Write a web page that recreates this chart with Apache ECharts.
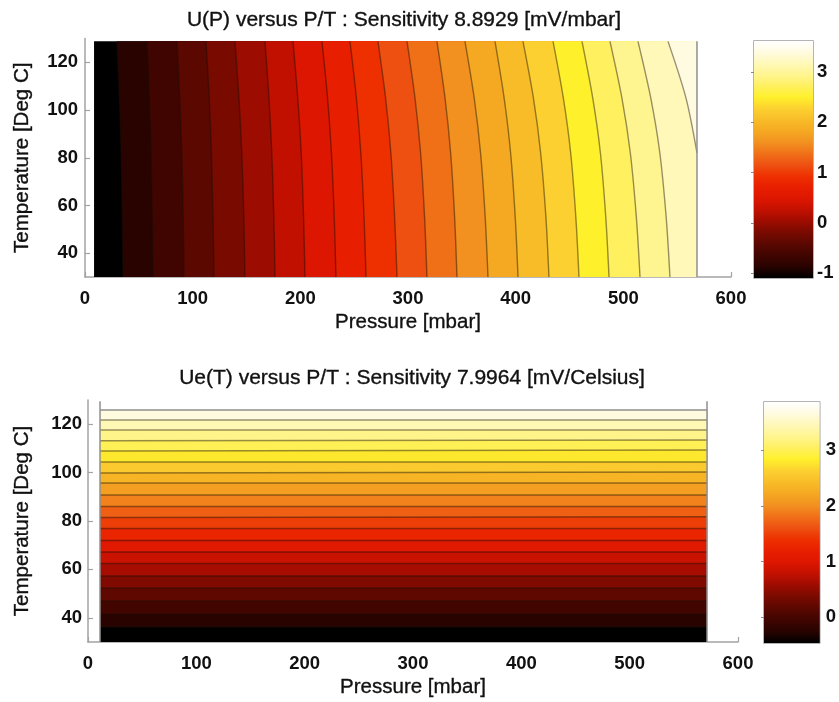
<!DOCTYPE html>
<html>
<head>
<meta charset="utf-8">
<script src="https://cdn.jsdelivr.net/npm/echarts@6/dist/echarts.min.js"></script>
<style>
  html, body { margin: 0; padding: 0; background: #fff; }
  #chart { width: 839px; height: 702px; }
</style>
</head>
<body>
<div id="chart"></div>
<script>
// ---------- U(P) versus P/T : contour levels and where each contour crosses five temperatures ----------
const upLevels = [-0.875, -0.650, -0.426, -0.201, 0.024, 0.249, 0.473, 0.698, 0.923, 1.148,
                  1.372, 1.597, 1.822, 2.047, 2.271, 2.496, 2.721, 2.946, 3.170, 3.395];
const upRowT = [128.8, 105, 82, 55, 30];
const upP_T1 = [29.7, 57.6, 85.4, 112.4, 139.3, 167.2, 193.2, 220.1, 246.1, 272.1,
                299.1, 326.9, 352.9, 380.8, 406.8, 434.7, 461.6, 487.6, 513.6, 541.5];
const upP_T2 = [31.9, 59.8, 88.0, 115.4, 143.0, 170.9, 197.6, 225.3, 252.1, 279.2,
                306.5, 334.4, 361.5, 389.3, 416.5, 444.3, 471.6, 498.7, 525.5, 558.2];
const upP_T3 = [33.5, 61.4, 89.9, 117.4, 145.6, 173.5, 200.8, 228.9, 256.2, 284.1,
                311.7, 339.6, 367.4, 395.3, 423.2, 451.1, 478.7, 506.5, 533.9, 568.4];
const upP_T4 = [34.6, 62.5, 91.2, 118.9, 147.5, 175.4, 203.0, 231.5, 259.2, 287.6,
                315.4, 343.3, 371.7, 399.6, 428.1, 455.9, 483.7, 512.1, 539.8, null];
const upP_T5 = [35.3, 63.2, 91.9, 119.8, 148.6, 176.5, 204.3, 233.1, 261.0, 289.8,
                317.6, 345.5, 374.3, 402.2, 430.9, 458.8, 486.7, 515.5, 543.3, null];
const upPRange = [8.4, 568.4];
const upTRange = [30, 128.8];
const upColorRange = [-1.1, 3.62];
const upTitle = 'U(P) versus P/T : Sensitivity 8.8929 [mV/mbar]';

// ---------- Ue(T) versus P/T : contour levels and their temperatures at both pressure ends ----------
const ueLevels = [-0.244, -0.028, 0.188, 0.404, 0.620, 0.836, 1.052, 1.268, 1.484, 1.700,
                  1.916, 2.132, 2.348, 2.564, 2.780, 2.996, 3.212, 3.428, 3.644, 3.860];
const ueT_left  = [36.2, 41.6, 46.9, 52.3, 57.3, 62.4, 67.2, 71.9, 76.9, 81.4,
                   86.0, 90.7, 95.7, 99.8, 104.4, 108.9, 113.2, 117.6, 121.7, 125.9];
const ueT_right = [36.2, 41.6, 46.9, 52.3, 57.3, 62.4, 67.2, 71.9, 76.9, 81.8,
                   86.0, 90.7, 95.7, 100.2, 104.4, 109.3, 113.5, 117.6, 121.7, 125.9];
const uePRange = [11.1, 571.4];
const ueTRange = [30, 125.9];
const ueColorRange = [-0.46, 3.86];
const ueTitle = 'Ue(T) versus P/T : Sensitivity 7.9964 [mV/Celsius]';

// ---------- axes ----------
const pressureTicks = [0, 100, 200, 300, 400, 500, 600];
const tempTicks = [40, 60, 80, 100, 120];
const upBarTicks = [-1, 0, 1, 2, 3];
const ueBarTicks = [0, 1, 2, 3];
const xName = 'Pressure [mbar]';
const yName = 'Temperature [Deg C]';

// ---------- styling ----------
const FONT = 'Liberation Sans';
const AXIS_GREY = '#a3a3a3';
const TEXT = '#111';
const tickFont = { fontFamily: FONT, fontSize: 18.5, fontWeight: 'bold', color: TEXT };
const nameFont = { fontFamily: FONT, fontSize: 20.5, color: TEXT,
                   textBorderColor: TEXT, textBorderWidth: 0.35 };
// "hot" style colour ramp (fraction of colour range -> colour)
const HOT = [
  [0.000, '#000000'], [0.048, '#280300'], [0.095, '#400500'], [0.143, '#5a0800'],
  [0.190, '#780a00'], [0.238, '#9c0c00'], [0.286, '#c21000'], [0.333, '#dc1600'],
  [0.381, '#e81e00'], [0.429, '#ee3000'], [0.476, '#ee5012'], [0.524, '#f07018'],
  [0.571, '#f29020'], [0.619, '#f5a822'], [0.667, '#f8bc28'], [0.714, '#fcd030'],
  [0.762, '#fff02c'], [0.810, '#fff060'], [0.857, '#fff590'], [0.905, '#fff8b8'],
  [0.952, '#fffbe0'], [1.000, '#ffffff']
];

function hexToRgb(h) {
  return [parseInt(h.slice(1, 3), 16), parseInt(h.slice(3, 5), 16), parseInt(h.slice(5, 7), 16)];
}
function cmap(f) {
  f = Math.max(0, Math.min(1, f));
  for (let i = 1; i < HOT.length; i++) {
    if (f <= HOT[i][0]) {
      const a = hexToRgb(HOT[i - 1][1]), b = hexToRgb(HOT[i][1]);
      const t = (f - HOT[i - 1][0]) / (HOT[i][0] - HOT[i - 1][0]);
      return 'rgb(' + a.map((v, j) => Math.round(v + (b[j] - v) * t)).join(',') + ')';
    }
  }
  return HOT[HOT.length - 1][1];
}
const frac = (v, r) => (v - r[0]) / (r[1] - r[0]);

// ---------- contour geometry ----------
const upRows = [upP_T1, upP_T2, upP_T3, upP_T4, upP_T5];
const upLines = upLevels.map((lv, i) =>
  upRows.map((row, j) => (row[i] == null ? null : [row[i], upRowT[j]])).filter(Boolean));

// filled regions are painted back to front: each one covers everything right of its contour
const upPolys = [{
  pts: [[upPRange[0], upTRange[0]], [upPRange[1], upTRange[0]], [upPRange[1], upTRange[1]], [upPRange[0], upTRange[1]]],
  color: cmap(0)
}];
upLines.forEach((ln, i) => upPolys.push({
  pts: ln.concat([[upPRange[1], upTRange[0]], [upPRange[1], upTRange[1]]]),
  color: cmap(frac(upLevels[i], upColorRange))
}));

const ueLines = ueLevels.map((lv, i) => [[uePRange[0], ueT_left[i]], [uePRange[1], ueT_right[i]]]);
// each region covers everything above its contour
const uePolys = [{
  pts: [[uePRange[0], ueTRange[0]], [uePRange[1], ueTRange[0]], [uePRange[1], ueTRange[1]], [uePRange[0], ueTRange[1]]],
  color: cmap(0)
}];
ueLines.forEach((ln, i) => uePolys.push({
  pts: [ln[0], ln[1], [uePRange[1], ueTRange[1]], [uePRange[0], ueTRange[1]]],
  color: cmap(frac(ueLevels[i], ueColorRange))
}));

function fillSeries(axisIdx, polys) {
  return {
    type: 'custom', xAxisIndex: axisIdx, yAxisIndex: axisIdx, silent: true, animation: false,
    data: polys.map((p, i) => [i]),
    renderItem(params, api) {
      const poly = polys[api.value(0)];
      return {
        type: 'polygon',
        shape: { points: poly.pts.map(pt => api.coord(pt)) },
        style: { fill: poly.color, stroke: null }
      };
    }
  };
}
function lineSeries(axisIdx, pts, color, width, smooth) {
  return {
    type: 'line', xAxisIndex: axisIdx, yAxisIndex: axisIdx, data: pts,
    showSymbol: false, symbol: 'none', silent: true, animation: false, z: 3,
    smooth: smooth || false,
    lineStyle: { color: color, width: width }
  };
}
function barSeries(axisIdx, range) {
  const stops = HOT.map(s => ({ offset: s[0], color: s[1] }));
  return {
    type: 'custom', xAxisIndex: axisIdx, yAxisIndex: axisIdx, silent: true, animation: false,
    data: [[0]],
    renderItem(params, api) {
      const p0 = api.coord([0, range[1]]);
      const p1 = api.coord([1, range[0]]);
      return {
        type: 'rect',
        shape: { x: p0[0], y: p0[1], width: p1[0] - p0[0], height: p1[1] - p0[1] },
        style: { fill: { type: 'linear', x: 0, y: 1, x2: 0, y2: 0, colorStops: stops } }
      };
    }
  };
}

const CONTOUR = 'rgba(25,15,5,0.45)';
const EDGE = '#8f8f8f';
const series = [];
series.push(fillSeries(0, upPolys));
upLines.forEach(ln => series.push(lineSeries(0, ln, CONTOUR, 1.4, 0.3)));
series.push(lineSeries(0, [[upPRange[1], upTRange[0]], [upPRange[1], upTRange[1]]], EDGE, 1.5));

series.push(fillSeries(1, uePolys));
ueLines.forEach((ln, i) => series.push(lineSeries(1, ln, i === ueLines.length - 1 ? EDGE : CONTOUR, 1.5)));
series.push(lineSeries(1, [[uePRange[0], ueTRange[0]], [uePRange[0], 129.5]], EDGE, 1.5));
series.push(lineSeries(1, [[uePRange[1], ueTRange[0]], [uePRange[1], 129.5]], EDGE, 1.5));

series.push(barSeries(2, upColorRange));
series.push(barSeries(3, ueColorRange));

// ---------- axes ----------
function pressureAxis(gridIndex, nameGap) {
  return {
    gridIndex, type: 'value', min: 0, max: 600, interval: 100,
    name: xName, nameLocation: 'middle', nameGap,
    nameTextStyle: nameFont,
    axisLine: { show: true, onZero: false, lineStyle: { color: AXIS_GREY, width: 1.5 } },
    axisTick: { show: true, inside: true, length: 5, lineStyle: { color: AXIS_GREY, width: 1.2 } },
    axisLabel: Object.assign({ margin: 12, customValues: pressureTicks }, tickFont),
    splitLine: { show: false }
  };
}
function tempAxis(gridIndex, nameGap, margin) {
  return {
    gridIndex, type: 'value', min: 30, max: 130,
    name: yName, nameLocation: 'middle', nameGap, nameRotate: 90,
    nameTextStyle: nameFont,
    axisLine: { show: true, onZero: false, lineStyle: { color: AXIS_GREY, width: 1.5 } },
    axisTick: { show: true, inside: true, length: 5, customValues: tempTicks,
                lineStyle: { color: AXIS_GREY, width: 1.2 } },
    axisLabel: Object.assign({ margin, customValues: tempTicks }, tickFont),
    splitLine: { show: false }
  };
}
function barAxis(gridIndex, range, ticks, position, showLabels, margin) {
  return {
    gridIndex, type: 'value', min: range[0], max: range[1], position,
    axisLine: { show: false },
    axisTick: { show: true, inside: true, length: 3, customValues: ticks,
                lineStyle: { color: '#8a8a8a', width: 1 } },
    axisLabel: Object.assign({ show: showLabels, margin, customValues: ticks }, tickFont),
    splitLine: { show: false }
  };
}
const hiddenX = (gridIndex) => ({ gridIndex, type: 'value', min: 0, max: 1, show: false });

const titleStyle = (text) => ({
  text, fontFamily: FONT, fontSize: 21, fill: TEXT, stroke: TEXT, lineWidth: 0.35,
  textAlign: 'center', textVerticalAlign: 'middle'
});

const option = {
  backgroundColor: '#fff',
  animation: false,
  grid: [
    { left: 85, top: 38.5, width: 646, height: 238.5 },
    { left: 88, top: 400, width: 650, height: 242 },
    { left: 754, top: 41, width: 59, height: 237, show: true, borderColor: '#9c9c9c', borderWidth: 1.5 },
    { left: 764, top: 402, width: 59, height: 241, show: true, borderColor: '#9c9c9c', borderWidth: 1.5 }
  ],
  xAxis: [pressureAxis(0, 35), pressureAxis(1, 35), hiddenX(2), hiddenX(3), hiddenX(2), hiddenX(3)],
  yAxis: [
    tempAxis(0, 52, 7), tempAxis(1, 55, 6),
    barAxis(2, upColorRange, upBarTicks, 'right', true, 4),
    barAxis(3, ueColorRange, ueBarTicks, 'right', true, 6),
    barAxis(2, upColorRange, upBarTicks, 'left', false, 4),
    barAxis(3, ueColorRange, ueBarTicks, 'left', false, 4)
  ],
  graphic: [
    { type: 'text', x: 404, y: 20, style: titleStyle(upTitle) },
    { type: 'text', x: 412, y: 378, style: titleStyle(ueTitle) }
  ],
  series
};

const chart = echarts.init(document.getElementById('chart'), null, { renderer: 'canvas' });
chart.setOption(option);
</script>
</body>
</html>
